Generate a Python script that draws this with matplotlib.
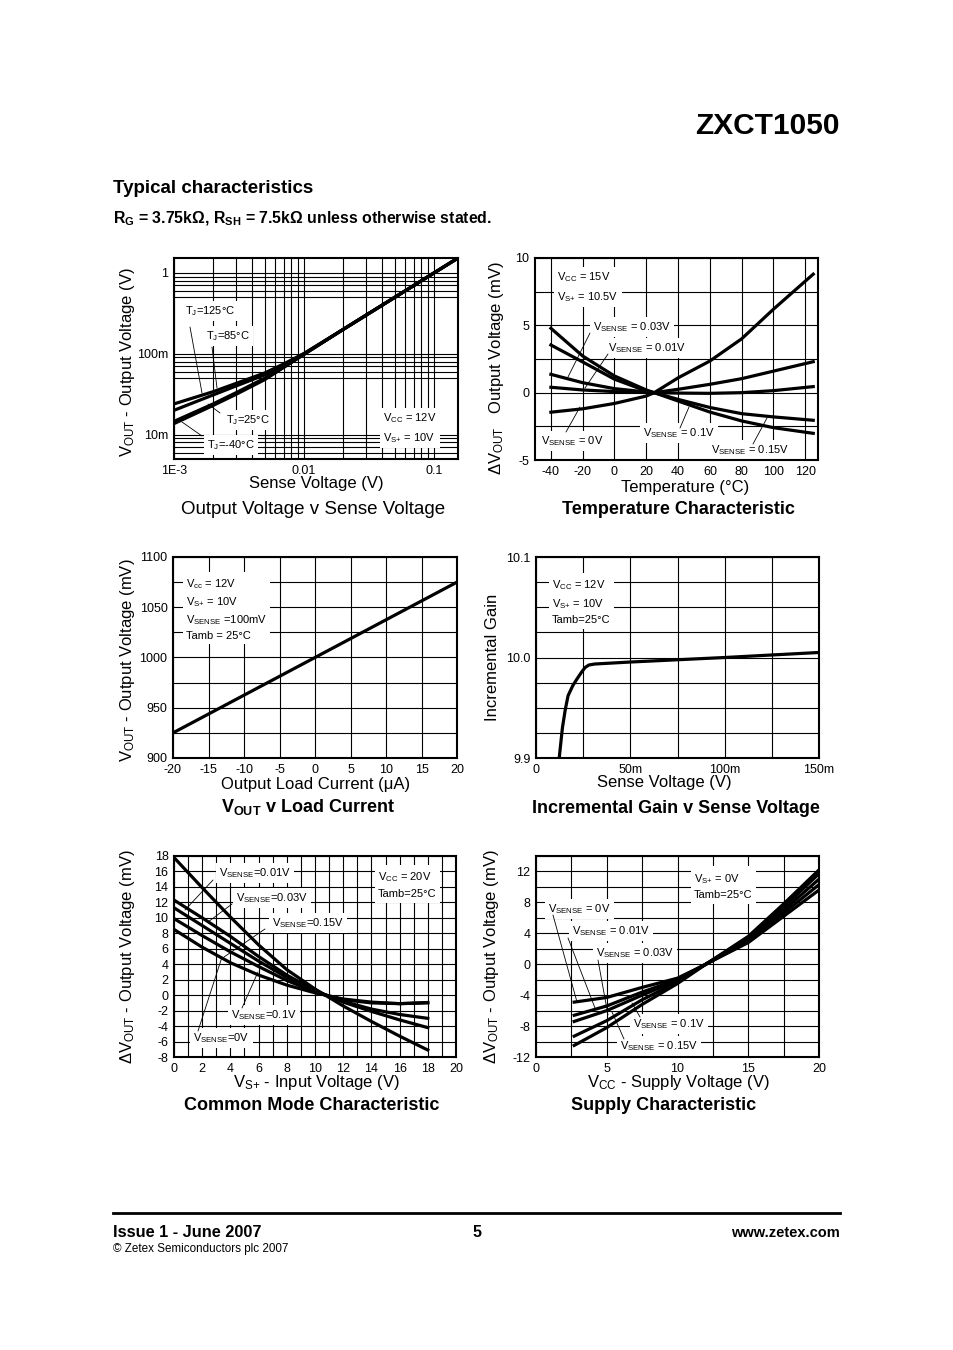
import numpy as np
import matplotlib
matplotlib.use('Agg')
import matplotlib.pyplot as plt
from matplotlib.ticker import FixedLocator, FixedFormatter, NullFormatter
from matplotlib.lines import Line2D

plt.rcParams['font.family'] = ['Liberation Sans', 'DejaVu Sans']
plt.rcParams['mathtext.fontset'] = 'custom'
plt.rcParams['mathtext.rm'] = 'Liberation Sans'
plt.rcParams['mathtext.it'] = 'Liberation Sans:italic'
plt.rcParams['mathtext.bf'] = 'Liberation Sans:bold'
plt.rcParams['axes.unicode_minus'] = False

# ---------------- data ----------------
# 1) Output voltage v sense voltage (log-log)
vsense1 = [0.001, 0.002, 0.003, 0.005, 0.007, 0.01, 0.02, 0.05, 0.1, 0.15]
vout_125 = [0.024, 0.034, 0.043, 0.058, 0.075, 0.101, 0.2, 0.5, 1.0, 1.5]
vout_85 = [0.020, 0.031, 0.040, 0.055, 0.073, 0.100, 0.2, 0.5, 1.0, 1.5]
vout_25 = [0.0146, 0.024, 0.033, 0.050, 0.069, 0.099, 0.2, 0.5, 1.0, 1.5]
vout_m40 = [0.0137, 0.023, 0.0315, 0.048, 0.068, 0.098, 0.2, 0.5, 1.0, 1.5]
x1_ticks = [0.001, 0.01, 0.1]
x1_labels = ['1E-3', '0.01', '0.1']
y1_ticks = [0.01, 0.1, 1]
y1_labels = ['10m', '100m', '1']

# 2) Temperature characteristic
temp = [-40, -20, 0, 20, 25, 40, 60, 80, 100, 125]
dv_t_0 = [-1.45, -1.2, -0.8, -0.25, 0.0, 1.1, 2.35, 4.0, 6.2, 8.8]
dv_t_001 = [0.4, 0.2, 0.08, 0.01, 0.0, -0.03, -0.05, 0.0, 0.15, 0.45]
dv_t_003 = [1.36, 0.74, 0.3, 0.05, 0.0, 0.25, 0.62, 1.04, 1.6, 2.3]
dv_t_01 = [3.54, 2.28, 1.0, 0.12, 0.0, -0.5, -1.1, -1.56, -1.8, -2.05]
dv_t_015 = [4.78, 2.72, 1.24, 0.2, 0.0, -0.62, -1.44, -2.1, -2.6, -3.02]

# 3) Vout v load current
iload = [-20, -10, 0, 10, 20]
vout_load = [925, 962.5, 1000, 1037.5, 1075]

# 4) Incremental gain v sense voltage
vsense4 = [0.0123, 0.014, 0.0155, 0.017, 0.0195, 0.0215, 0.024, 0.026, 0.028, 0.031, 0.05, 0.1, 0.15]
gain4 = [9.9, 9.93, 9.948, 9.962, 9.972, 9.978, 9.985, 9.990, 9.9925, 9.9935, 9.9955, 10.0, 10.005]
x4_ticks = [0, 0.05, 0.1, 0.15]
x4_labels = ['0', '50m', '100m', '150m']
y4_ticks = [9.9, 10.0, 10.1]
y4_labels = ['9.9', '10.0', '10.1']

# 5) Common mode characteristic
vin = [0, 2, 4, 6, 8, 10, 12, 14, 16, 18]
dv_cm_1 = [17.8, 13.9, 10.1, 6.5, 3.3, 0.8, -1.4, -3.4, -5.3, -7.1]
dv_cm_2 = [12.3, 10.0, 7.6, 5.0, 2.6, 0.6, -0.9, -2.1, -3.2, -4.2]
dv_cm_3 = [11.3, 9.0, 6.7, 4.4, 2.3, 0.5, -0.8, -1.8, -2.5, -3.0]
dv_cm_4 = [9.9, 7.7, 5.6, 3.7, 1.9, 0.4, -0.6, -1.0, -1.1, -1.0]
dv_cm_5 = [8.5, 6.2, 4.2, 2.6, 1.3, 0.3, -0.5, -0.9, -1.1, -0.95]

# 6) Supply characteristic
vcc = [2.7, 5, 7.5, 10, 12, 15, 17.5, 20]
dv_s_0 = [-4.9, -4.3, -3.0, -1.8, 0.0, 2.8, 6.2, 9.6]
dv_s_001 = [-6.6, -5.4, -3.6, -2.0, 0.0, 3.0, 6.6, 10.3]
dv_s_003 = [-7.4, -6.0, -4.0, -2.1, 0.0, 3.2, 7.0, 11.0]
dv_s_01 = [-9.3, -7.3, -4.6, -2.3, 0.0, 3.4, 7.4, 11.7]
dv_s_015 = [-10.5, -8.2, -5.2, -2.5, 0.0, 3.6, 7.8, 12.2]

# ---------------- layout ----------------
W, H = 954, 1350
fig = plt.figure(figsize=(W / 100, H / 100), dpi=100)
fig.patch.set_facecolor('white')

boxes = {}


def ax_at(x0, y0, x1, y1):
    ax = fig.add_axes([x0 / W, 1 - y1 / H, (x1 - x0) / W, (y1 - y0) / H])
    boxes[ax] = (x0, y0, x1, y1)
    for s in ax.spines.values():
        s.set_linewidth(1.5)
        s.set_zorder(6)
    ax.tick_params(which='both', length=0, labelsize=9, pad=4)
    ax.set_axisbelow(True)
    ax.grid(True, which='both', color='black', lw=0.8)
    return ax


def ftxt(px, py, s, **kw):
    fig.text(px / W, 1 - py / H, s, **kw)


def afr(ax, px, py):
    x0, y0, x1, y1 = boxes[ax]
    return ((px - x0) / (x1 - x0), (y1 - py) / (y1 - y0))


WB = dict(facecolor='white', edgecolor='none', pad=2.5)


def label(ax, px, py, s, fs=8, ls=1.6):
    ax.text(*afr(ax, px, py), s, transform=ax.transAxes, ha='left', va='center',
            fontsize=fs, bbox=WB, zorder=3, linespacing=ls)


def pointer(ax, p0, p1):
    ax.annotate('', xy=afr(ax, *p1), xytext=afr(ax, *p0), xycoords='axes fraction',
                textcoords='axes fraction',
                arrowprops=dict(arrowstyle='-', lw=0.6, color='black', shrinkA=0, shrinkB=0),
                zorder=3.5)


LW = 2.3
SS = r'V$_{\mathrm{SENSE}}$'
SP = r'V$_{\mathrm{S}{+}}$'

# ---- chart 1 ----
ax1 = ax_at(174, 258, 458, 459)
ax1.set_xscale('log')
ax1.set_yscale('log')
for y in (vout_125, vout_85, vout_25, vout_m40):
    ax1.plot(vsense1, y, color='black', lw=LW, zorder=4, solid_capstyle='butt')
ax1.set_xlim(0.001, 0.153)
ax1.set_ylim(0.005, 1.53)
ax1.xaxis.set_major_locator(FixedLocator(x1_ticks))
ax1.xaxis.set_major_formatter(FixedFormatter(x1_labels))
ax1.xaxis.set_minor_locator(FixedLocator([m * d for d in (0.001, 0.01) for m in range(2, 10)]))
ax1.xaxis.set_minor_formatter(NullFormatter())
ax1.yaxis.set_major_locator(FixedLocator(y1_ticks))
ax1.yaxis.set_major_formatter(FixedFormatter(y1_labels))
ax1.yaxis.set_minor_locator(FixedLocator([m * d for d in (0.001, 0.01, 0.1) for m in range(5, 10)]))
ax1.yaxis.set_minor_formatter(NullFormatter())
label(ax1, 185, 311, r'T$_{\mathrm{J}}$=125°C')
label(ax1, 206, 336, r'T$_{\mathrm{J}}$=85°C')
label(ax1, 226, 420, r'T$_{\mathrm{J}}$=25°C')
label(ax1, 207, 445, r'T$_{\mathrm{J}}$=-40°C')
label(ax1, 383, 428, 'V$_{\\mathrm{CC}}$ = 12V\n' + SP + ' = 10V')
pointer(ax1, (190, 327), (202, 393))
pointer(ax1, (212, 347), (217, 388))
pointer(ax1, (220, 413), (208, 404))
pointer(ax1, (202, 436), (182, 422))
ftxt(128, 362, r'V$_{\mathrm{OUT}}$ - Output Voltage (V)', rotation=90, ha='center', va='center', fontsize=12)
ftxt(316, 484, 'Sense Voltage (V)', ha='center', va='center', fontsize=12)
ftxt(313, 509, 'Output Voltage v Sense Voltage', ha='center', va='center', fontsize=13.5)

# ---- chart 2 ----
ax2 = ax_at(535, 258, 818, 460)
for y in (dv_t_0, dv_t_001, dv_t_003, dv_t_01, dv_t_015):
    ax2.plot(temp, y, color='black', lw=LW, zorder=4)
ax2.set_xlim(-50, 128)
ax2.set_ylim(-5, 10)
ax2.xaxis.set_major_locator(FixedLocator(list(range(-40, 121, 20))))
ax2.yaxis.set_major_locator(FixedLocator([-5, 0, 5, 10]))
ax2.yaxis.set_minor_locator(FixedLocator([-2.5, 2.5, 7.5]))
ax2.yaxis.set_minor_formatter(NullFormatter())
label(ax2, 557, 287, 'V$_{\\mathrm{CC}}$ = 15V\n' + SP + ' = 10.5V')
label(ax2, 593, 327, SS + ' = 0.03V')
label(ax2, 608, 348, SS + ' = 0.01V')
label(ax2, 541, 441, SS + ' = 0V')
label(ax2, 643, 433, SS + ' = 0.1V')
label(ax2, 711, 450, SS + ' = 0.15V')
pointer(ax2, (590, 333), (568, 377))
pointer(ax2, (608, 354), (585, 388))
pointer(ax2, (566, 432), (580, 407))
pointer(ax2, (680, 428), (689, 407))
pointer(ax2, (753, 444), (767, 418))
ftxt(497, 368, r'ΔV$_{\mathrm{OUT}}$   Output Voltage (mV)', rotation=90, ha='center', va='center', fontsize=12)
ftxt(685, 487, 'Temperature (°C)', ha='center', va='center', fontsize=12)
ftxt(678, 509, 'Temperature Characteristic', ha='center', va='center', fontsize=13, fontweight='bold')

# ---- chart 3 ----
ax3 = ax_at(173, 557, 457, 758)
ax3.plot(iload, vout_load, color='black', lw=LW, zorder=4)
ax3.set_xlim(-20, 20)
ax3.set_ylim(900, 1100)
ax3.xaxis.set_major_locator(FixedLocator(list(range(-20, 21, 5))))
ax3.yaxis.set_major_locator(FixedLocator(list(range(900, 1101, 50))))
ax3.yaxis.set_minor_locator(FixedLocator([925, 975, 1025, 1075]))
ax3.yaxis.set_minor_formatter(NullFormatter())
label(ax3, 186, 609, 'V$_{\\mathrm{cc}}$ = 12V\n' + SP + ' = 10V\n' + SS + ' =100mV\nTamb = 25°C', ls=1.45)
ftxt(128, 660, r'V$_{\mathrm{OUT}}$ - Output Voltage (mV)', rotation=90, ha='center', va='center', fontsize=12)
ftxt(316, 785, 'Output Load Current (μA)', ha='center', va='center', fontsize=12)
ftxt(308, 807, r'V$_{\mathbf{OUT}}$ v Load Current', ha='center', va='center', fontsize=13, fontweight='bold')

# ---- chart 4 ----
ax4 = ax_at(536, 557, 819, 758)
ax4.plot(vsense4, gain4, color='black', lw=LW, zorder=4)
ax4.set_xlim(0, 0.15)
ax4.set_ylim(9.9, 10.1)
ax4.xaxis.set_major_locator(FixedLocator(x4_ticks))
ax4.xaxis.set_major_formatter(FixedFormatter(x4_labels))
ax4.xaxis.set_minor_locator(FixedLocator([0.025, 0.075, 0.125]))
ax4.xaxis.set_minor_formatter(NullFormatter())
ax4.yaxis.set_major_locator(FixedLocator(y4_ticks))
ax4.yaxis.set_major_formatter(FixedFormatter(y4_labels))
ax4.yaxis.set_minor_locator(FixedLocator([9.925, 9.95, 9.975, 10.025, 10.05, 10.075]))
ax4.yaxis.set_minor_formatter(NullFormatter())
label(ax4, 552, 602, 'V$_{\\mathrm{CC}}$ = 12V\n' + SP + ' = 10V\nTamb=25°C', ls=1.5)
ftxt(493, 657, 'Incremental Gain', rotation=90, ha='center', va='center', fontsize=12)
ftxt(664, 783, 'Sense Voltage (V)', ha='center', va='center', fontsize=12)
ftxt(676, 808, 'Incremental Gain v Sense Voltage', ha='center', va='center', fontsize=13, fontweight='bold')

# ---- chart 5 ----
ax5 = ax_at(174, 856, 456, 1057)
for y in (dv_cm_1, dv_cm_2, dv_cm_3, dv_cm_4, dv_cm_5):
    ax5.plot(vin, y, color='black', lw=LW, zorder=4)
ax5.set_xlim(0, 20)
ax5.set_ylim(-8, 18)
ax5.xaxis.set_major_locator(FixedLocator(list(range(0, 21, 2))))
ax5.xaxis.set_minor_locator(FixedLocator(list(range(1, 20, 2))))
ax5.xaxis.set_minor_formatter(NullFormatter())
ax5.yaxis.set_major_locator(FixedLocator(list(range(-8, 19, 2))))
label(ax5, 219, 873, SS + '=0.01V')
label(ax5, 236, 898, SS + '=0.03V')
label(ax5, 272, 923, SS + '=0.15V')
label(ax5, 231, 1015, SS + '=0.1V')
label(ax5, 193, 1038, SS + '=0V')
label(ax5, 378, 885, 'V$_{\\mathrm{CC}}$ = 20V\nTamb=25°C')
pointer(ax5, (213, 880), (185, 910))
pointer(ax5, (232, 904), (208, 922))
pointer(ax5, (265, 929), (224, 957))
pointer(ax5, (242, 1008), (258, 972))
pointer(ax5, (198, 1031), (222, 957))
ftxt(128, 957, r'ΔV$_{\mathrm{OUT}}$ - Output Voltage (mV)', rotation=90, ha='center', va='center', fontsize=12)
ftxt(316, 1083, SP + ' - Input Voltage (V)', ha='center', va='center', fontsize=12)
ftxt(312, 1106, 'Common Mode Characteristic', ha='center', va='center', fontsize=13, fontweight='bold')

# ---- chart 6 ----
ax6 = ax_at(536, 856, 819, 1057)
for y in (dv_s_0, dv_s_001, dv_s_003, dv_s_01, dv_s_015):
    ax6.plot(vcc, y, color='black', lw=LW, zorder=4)
ax6.set_xlim(0, 20)
ax6.set_ylim(-12, 14)
ax6.xaxis.set_major_locator(FixedLocator([0, 5, 10, 15, 20]))
ax6.xaxis.set_minor_locator(FixedLocator([2.5, 7.5, 12.5, 17.5]))
ax6.xaxis.set_minor_formatter(NullFormatter())
ax6.yaxis.set_major_locator(FixedLocator(list(range(-12, 13, 4))))
ax6.yaxis.set_minor_locator(FixedLocator([-10, -6, -2, 2, 6, 10, 14]))
ax6.yaxis.set_minor_formatter(NullFormatter())
label(ax6, 548, 909, SS + ' = 0V')
label(ax6, 572, 931, SS + ' = 0.01V')
label(ax6, 596, 953, SS + ' = 0.03V')
label(ax6, 633, 1024, SS + ' = 0.1V')
label(ax6, 620, 1046, SS + ' = 0.15V')
label(ax6, 694, 886, SP + ' = 0V\nTamb=25°C')
pointer(ax6, (553, 915), (577, 1002))
pointer(ax6, (568, 938), (595, 1008))
pointer(ax6, (598, 960), (608, 1015))
pointer(ax6, (640, 1017), (632, 1003))
pointer(ax6, (624, 1039), (612, 1012))
ftxt(492, 957, r'ΔV$_{\mathrm{OUT}}$ - Output Voltage (mV)', rotation=90, ha='center', va='center', fontsize=12)
ftxt(678, 1083, r'V$_{\mathrm{CC}}$ - Supply Voltage (V)', ha='center', va='center', fontsize=12)
ftxt(664, 1106, 'Supply Characteristic', ha='center', va='center', fontsize=13, fontweight='bold')

# ---- page text ----
ftxt(840, 134, 'ZXCT1050', ha='right', va='baseline', fontsize=21.5, fontweight='bold')
ftxt(113, 193, 'Typical characteristics', ha='left', va='baseline', fontsize=13.5, fontweight='bold')
ftxt(113, 223, r'R$_{\mathbf{G}}$ = 3.75kΩ, R$_{\mathbf{SH}}$ = 7.5kΩ unless otherwise stated.',
     ha='left', va='baseline', fontsize=11.4, fontweight='bold')
fig.add_artist(Line2D([113 / W, 840 / W], [1 - 1213 / H] * 2, lw=2, color='black'))
ftxt(113, 1237, 'Issue 1 - June 2007', ha='left', va='baseline', fontsize=11.8, fontweight='bold')
ftxt(477, 1237, '5', ha='center', va='baseline', fontsize=11.5, fontweight='bold')
ftxt(840, 1237, 'www.zetex.com', ha='right', va='baseline', fontsize=10.5, fontweight='bold')
ftxt(113, 1252, '© Zetex Semiconductors plc 2007', ha='left', va='baseline', fontsize=8.4)

fig.savefig('out.png', dpi=100, facecolor='white')
